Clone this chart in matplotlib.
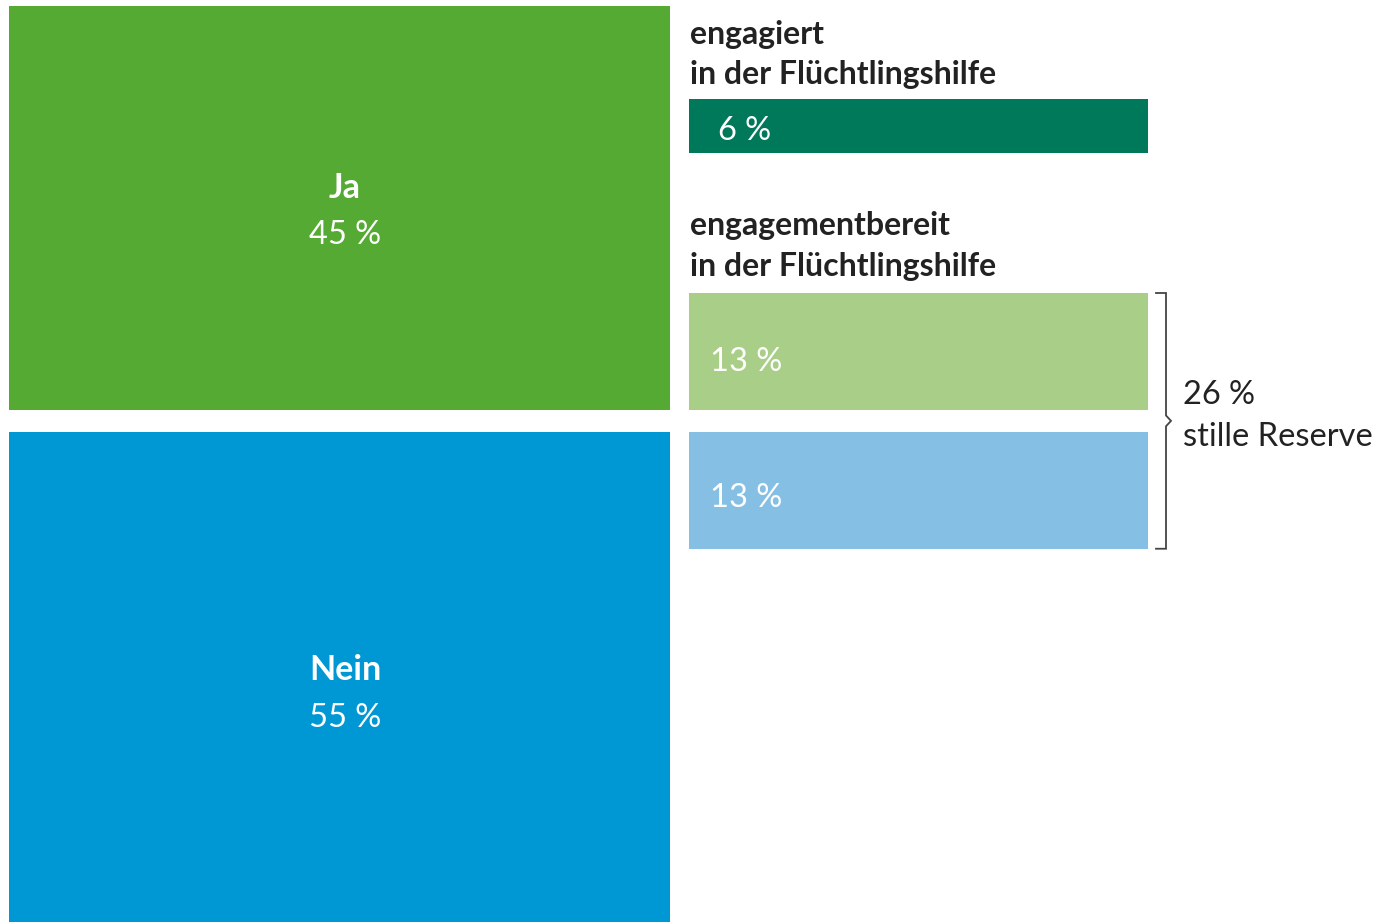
import matplotlib
matplotlib.use("Agg")
import matplotlib.pyplot as plt
from matplotlib.patches import Rectangle

# ---- data ----
main_labels = ["Ja", "Nein"]
main_values = [45, 55]
main_colors = ["#55AA33", "#0098D4"]

detail_titles = ["engagiert\nin der Flüchtlingshilfe", "engagementbereit\nin der Flüchtlingshilfe"]
engaged_value = 6
ready_values = [13, 13]
ready_colors = ["#A9CE88", "#85C0E4"]
engaged_color = "#00785A"
reserve_value = 26
reserve_label = "stille Reserve"

plt.rcParams['font.family'] = ['Lato', 'DejaVu Sans']

W, H = 1381, 922
S = 8.98  # pixels per percent
fig = plt.figure(figsize=(W / 100, H / 100), dpi=100)
ax = fig.add_axes([0, 0, 1, 1])
ax.set_xlim(0, W)
ax.set_ylim(H / S, 0)
ax.axis("off")

txt_dark = "#222222"
fs = 23.5
fs_t = 23

def pct(v):
    return f"{v}\u2009\u2009%"

# left column
tops_px = [6, 432]
label_px = [188, 670]
value_px = [235, 718]
for lab, v, c, t, ly, vy in zip(main_labels, main_values, main_colors, tops_px, label_px, value_px):
    ax.add_patch(Rectangle((9, t / S), 661, v, facecolor=c, edgecolor="none"))
    ax.text(345, ly / S, lab, color="white", fontsize=fs + 1, ha="center", va="center", fontweight="bold")
    ax.text(345, vy / S, pct(v), color="white", fontsize=fs, ha="center", va="center")

# engaged
l1, l2 = detail_titles[0].split("\n")
ax.text(690, 34 / S, l1, fontsize=fs_t, color=txt_dark, ha="left", va="center", fontweight="bold")
ax.text(690, 74 / S, l2, fontsize=fs_t, color=txt_dark, ha="left", va="center", fontweight="bold")
ax.add_patch(Rectangle((689, 99 / S), 459, engaged_value, facecolor=engaged_color, edgecolor="none"))
ax.text(718, 131 / S, pct(engaged_value), color="white", fontsize=fs, ha="left", va="center")

# ready
l1, l2 = detail_titles[1].split("\n")
ax.text(690, 225 / S, l1, fontsize=fs_t, color=txt_dark, ha="left", va="center", fontweight="bold")
ax.text(690, 266 / S, l2, fontsize=fs_t, color=txt_dark, ha="left", va="center", fontweight="bold")
rtops_px = [293, 432]
rtext_px = [362, 498]
for v, c, t, ty in zip(ready_values, ready_colors, rtops_px, rtext_px):
    ax.add_patch(Rectangle((689, t / S), 459, v, facecolor=c, edgecolor="none"))
    ax.text(710, ty / S, pct(v), color="white", fontsize=fs, ha="left", va="center")

# bracket
y0 = rtops_px[0] / S
y1 = rtops_px[1] / S + ready_values[1]
ym = (y0 + y1) / 2
bc = "#444444"
ax.plot([1156, 1166, 1166, 1171, 1166, 1166, 1156],
        [y0, y0, ym - 0.6, ym, ym + 0.6, y1, y1], color=bc, lw=1.3, solid_joinstyle="miter")

ax.text(1183, 395 / S, pct(reserve_value), fontsize=fs, color=txt_dark, ha="left", va="center")
ax.text(1183, 437 / S, reserve_label, fontsize=fs, color=txt_dark, ha="left", va="center")

fig.savefig("out.png", dpi=100)
